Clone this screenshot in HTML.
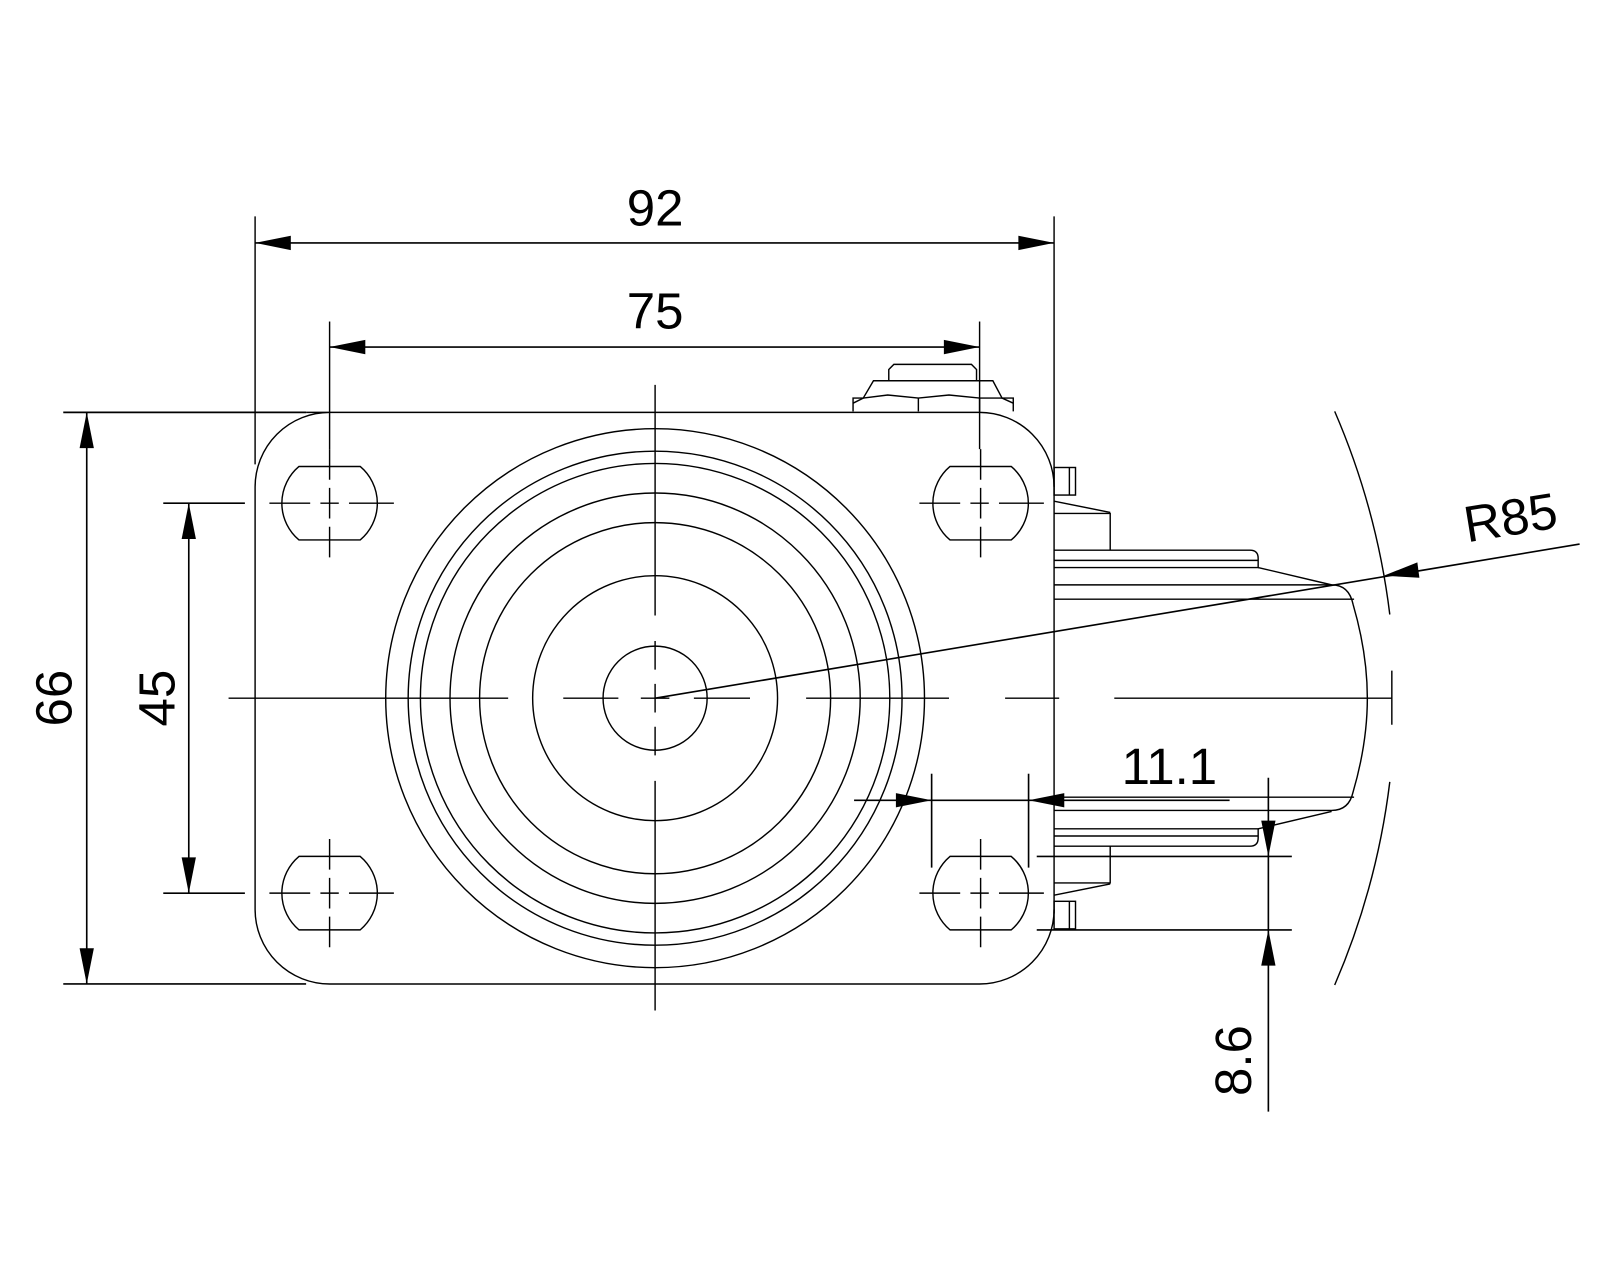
<!DOCTYPE html>
<html><head><meta charset="utf-8"><style>
html,body{margin:0;padding:0;background:#fff;}
svg{display:block;}
text{font-family:"Liberation Sans",Arial,sans-serif;font-size:50px;fill:#000;}
</style></head><body>
<svg width="1600" height="1280" viewBox="0 0 1568 1254" preserveAspectRatio="none" xmlns="http://www.w3.org/2000/svg">
<g fill="none" stroke="#000" stroke-width="1.4">
<path d="M300 404 H960 A73 73 0 0 1 1033 477 M1033 891 A73 73 0 0 1 960 964 H323 A73 73 0 0 1 250 891 V477 A73 73 0 0 1 323 404"/>
<line x1="1033" y1="212" x2="1033" y2="895"/>
<line x1="250" y1="212" x2="250" y2="455"/>
<line x1="323" y1="315" x2="323" y2="440"/>
<line x1="960" y1="315" x2="960" y2="440"/>
<path d="M836 403 V390 L846 390 L856 373 H973 L982 390 L993 390 V403"/>
<path d="M871 373 V362 L876 357 H952 L957 362 V373"/>
<path d="M846 390 L870 387 L900 390 L930 387 L960 390 L982 390"/>
<path d="M846 390 L836 395 M982 390 L993 395 M900 390 V403 M960 390 V403"/>
<circle cx="642" cy="684" r="264"/>
<circle cx="642" cy="684" r="242"/>
<circle cx="642" cy="684" r="230"/>
<circle cx="642" cy="684" r="201"/>
<circle cx="642" cy="684" r="172"/>
<circle cx="642" cy="684" r="120"/>
<circle cx="642" cy="684" r="51"/>
<path d="M293 457 H353 A47 47 0 0 1 353 529 H293 A47 47 0 0 1 293 457 Z"/>
<path d="M931 457 H991 A47 47 0 0 1 991 529 H931 A47 47 0 0 1 931 457 Z"/>
<path d="M293 839 H353 A47 47 0 0 1 353 911 H293 A47 47 0 0 1 293 839 Z"/>
<path d="M931 839 H991 A47 47 0 0 1 991 911 H931 A47 47 0 0 1 931 839 Z"/>
<g>
<path d="M264 493 H304 M314 493 H332 M342 493 H386 M323 440 V470 M323 478 V508 M323 516 V546"/>
<path d="M901 493 H941 M951 493 H969 M979 493 H1023 M961 440 V470 M961 478 V508 M961 516 V546"/>
<path d="M264 875 H304 M314 875 H332 M342 875 H386 M323 822 V852 M323 860 V890 M323 898 V928"/>
<path d="M901 875 H941 M951 875 H969 M979 875 H1023 M961 822 V852 M961 860 V890 M961 898 V928"/>
</g>
<path d="M224 684 H498 M552 684 H606 M628 684 H656 M680 684 H735 M790 684 H930 M985 684 H1038 M1092 684 H1364 M1364 657 V710"/>
<path d="M642 377 V603 M642 628 V656 M642 670 V698 M642 712 V740 M642 765 V990"/>
<g id="br">
<rect x="1033" y="458" width="21" height="27"/>
<line x1="1048" y1="458" x2="1048" y2="485"/>
<line x1="1033" y1="491" x2="1088" y2="502"/>
<path d="M1033 503 H1088 V539"/>
<path d="M1033 539 H1225 Q1233 539 1233 547 V556 H1033"/>
<line x1="1033" y1="549" x2="1233" y2="549"/>
<line x1="1233" y1="556" x2="1305" y2="573"/>
</g>
<use href="#br" transform="translate(0,1368) scale(1,-1)"/>
<path d="M1033 573 H1305 Q1322 573 1326 592 Q1340 640 1340 684 Q1340 728 1326 776 Q1322 794 1305 794 H1033"/>
<line x1="1033" y1="587" x2="1327" y2="587"/>
<line x1="1033" y1="781" x2="1327" y2="781"/>
<path d="M1308 403 A723 723 0 0 1 1362 602"/>
<path d="M1362 766 A723 723 0 0 1 1308 965"/>
</g>
<g stroke="#000" stroke-width="1.6" fill="none">
<line x1="250" y1="238" x2="1033" y2="238"/>
<line x1="323" y1="340" x2="960" y2="340"/>
<line x1="62" y1="404" x2="300" y2="404"/>
<line x1="62" y1="964" x2="300" y2="964"/>
<line x1="85" y1="404" x2="85" y2="964"/>
<line x1="160" y1="493" x2="240" y2="493"/>
<line x1="160" y1="875" x2="240" y2="875"/>
<line x1="185" y1="493" x2="185" y2="875"/>
<line x1="642" y1="684" x2="1548" y2="533"/>
<line x1="837" y1="784" x2="1205" y2="784"/>
<line x1="913" y1="758" x2="913" y2="850"/>
<line x1="1008" y1="758" x2="1008" y2="850"/>
<line x1="1243" y1="762" x2="1243" y2="1089"/>
<line x1="1016" y1="839" x2="1266" y2="839"/>
<line x1="1016" y1="911" x2="1266" y2="911"/>
</g>
<g fill="#000">
<polygon points="250,238 285,231 285,245"/>
<polygon points="1033,238 998,231 998,245"/>
<polygon points="323,340 358,333 358,347"/>
<polygon points="960,340 925,333 925,347"/>
<polygon points="85,404 78,439 92,439"/>
<polygon points="85,964 78,929 92,929"/>
<polygon points="185,493 178,528 192,528"/>
<polygon points="185,875 178,840 192,840"/>
<polygon points="913,784 878,777 878,791"/>
<polygon points="1008,784 1043,777 1043,791"/>
<polygon points="1243,839 1236,804 1250,804"/>
<polygon points="1243,911 1236,946 1250,946"/>
<polygon points="1356,564 1389,551 1391,566"/>
</g>
<text x="642" y="221" text-anchor="middle">92</text>
<text x="642" y="322" text-anchor="middle">75</text>
<text transform="translate(70,684) rotate(-90)" text-anchor="middle">66</text>
<text transform="translate(171,684) rotate(-90)" text-anchor="middle">45</text>
<text x="1146" y="768" text-anchor="middle">11.1</text>
<text transform="translate(1226,1039) rotate(-90)" text-anchor="middle">8.6</text>
<text transform="translate(1483,524) rotate(-9.3)" text-anchor="middle">R85</text>
</svg>
</body></html>
